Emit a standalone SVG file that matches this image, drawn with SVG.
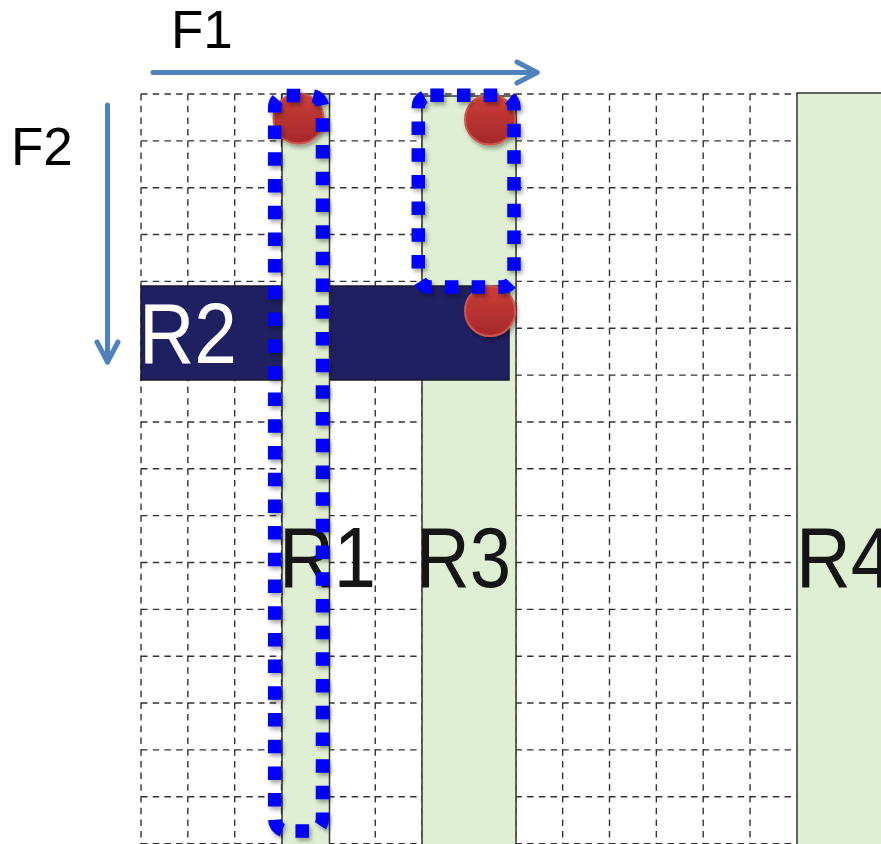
<svg xmlns="http://www.w3.org/2000/svg" width="881" height="844" viewBox="0 0 881 844">
<style>
.grid{fill:none;stroke:#333;stroke-width:1.4;stroke-dasharray:6.5 5.2}
.green{fill:#deefd3;stroke:#333;stroke-width:1.5}
.lbl{font-family:"Liberation Sans",Arial,sans-serif;font-size:86px;fill:#151515}
.axl{font-family:"Liberation Sans",Arial,sans-serif;font-size:53px;fill:#000}
.arrow{fill:none;stroke:#4f81bd;stroke-width:5;stroke-linecap:round}
.dot{fill:url(#redg);stroke:#cf5650;stroke-width:2;filter:url(#sh)}
.outline{fill:none;stroke:#0000ff;stroke-width:13.5;stroke-dasharray:13.5 13.2;filter:url(#sh)}
</style>
<defs>
<linearGradient id="redg" x1="0" y1="0" x2="0" y2="1">
<stop offset="0" stop-color="#cc3d38"/>
<stop offset="1" stop-color="#a5292a"/>
</linearGradient>
<filter id="sh" x="-20%" y="-20%" width="140%" height="140%">
<feDropShadow dx="2" dy="3" stdDeviation="2" flood-color="#000" flood-opacity="0.35"/>
</filter>
<marker id="ah" markerUnits="userSpaceOnUse" viewBox="-25 -15 30 30" markerWidth="30" markerHeight="30" refX="0" refY="0" orient="auto" overflow="visible">
<path d="M-20,-10.5 L0,0 L-20,10.5" fill="none" stroke="#4f81bd" stroke-width="5" stroke-linecap="round" stroke-linejoin="round"/>
</marker>
</defs>
<rect width="881" height="844" fill="#fff"/>
<g id="grid">
<path class="grid" d="M141,94V844M187.85,94V844M234.7,94V844M281.55,94V844M328.4,94V844M375.25,94V844M422.1,94V844M468.95,94V844M515.8,94V844M562.65,94V844M609.5,94V844M656.35,94V844M703.2,94V844M750.05,94V844"/>
<path class="grid" d="M141,94H797M141,140.85H797M141,187.7H797M141,234.55H797M141,281.4H797M141,328.25H797M141,375.1H797M141,421.95H797M141,468.8H797M141,515.65H797M141,562.5H797M141,609.35H797M141,656.2H797M141,703.05H797M141,749.9H797M141,796.75H797M141,843.6H797"/>
</g>
<g id="R3">
<rect class="green" x="422" y="96" width="94" height="752"/>
</g>
<g id="R4">
<rect class="green" x="797" y="93" width="90" height="760"/>
</g>
<g id="R2">
<rect x="141" y="286" width="368" height="94" fill="#1f2062" stroke="#1a1a2a" stroke-width="1.5"/>
<text class="lbl" x="139" y="363" style="fill:#fff" textLength="98" lengthAdjust="spacingAndGlyphs">R2</text>
</g>
<g id="R1">
<rect class="green" x="282" y="94" width="47.5" height="754"/>
</g>
<g id="labels">
<text class="lbl" x="279" y="587" textLength="97" lengthAdjust="spacingAndGlyphs">R1</text>
<text class="lbl" x="416" y="587" textLength="95" lengthAdjust="spacingAndGlyphs">R3</text>
<text class="lbl" x="796" y="587" textLength="97" lengthAdjust="spacingAndGlyphs">R4</text>
</g>
<g id="points">
<circle class="dot" cx="298.5" cy="118.5" r="25"/>
<circle class="dot" cx="490" cy="119.5" r="25"/>
<circle class="dot" cx="490" cy="311" r="25"/>
</g>
<g id="outlines">
<rect class="outline" x="274.7" y="95.5" width="47.8" height="735.5" rx="12"/>
<rect class="outline" x="418.3" y="95.3" width="95.7" height="191.7" rx="12"/>
</g>
<g id="connectors">
<path class="arrow" d="M153,72.5H537" marker-end="url(#ah)"/>
<path class="arrow" d="M107.5,105V362" marker-end="url(#ah)"/>
</g>
<g id="axis-labels">
<text class="axl" x="171" y="48">F1</text>
<text class="axl" x="11" y="165">F2</text>
</g>
</svg>
